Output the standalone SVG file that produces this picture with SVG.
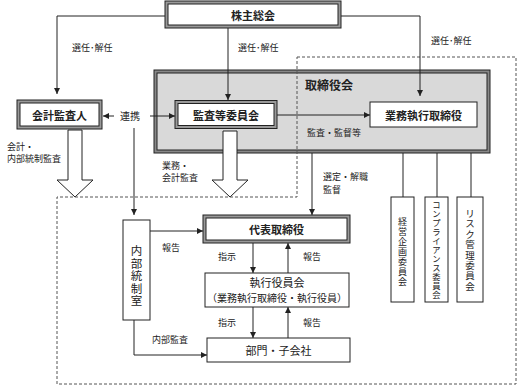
<svg xmlns="http://www.w3.org/2000/svg" width="517" height="385" viewBox="0 0 517 385">
<defs>
<marker id="ah" markerWidth="6" markerHeight="6" refX="6" refY="3" orient="auto" markerUnits="userSpaceOnUse">
<path d="M0,0 L6,3 L0,6 z" fill="#222"/>
</marker>
<style>
text{font-family:"Noto Sans CJK JP","Noto Sans CJK SC",sans-serif;fill:#222}
.lbl{font-size:9px}
.ttl{font-size:11px;font-weight:bold;text-anchor:middle;dominant-baseline:central}
.nm{font-size:11px;text-anchor:middle;dominant-baseline:central}
.vt{font-size:9px;text-anchor:middle}
.ln{stroke:#222;stroke-width:1;fill:none}
.arr{stroke:#222;stroke-width:1;fill:none;marker-end:url(#ah)}
.dbo{fill:#999;stroke:#222;stroke-width:1}
.dbi{fill:#fff;stroke:#222;stroke-width:1}
.box{fill:#fff;stroke:#222;stroke-width:1}
.hol{fill:#fff;stroke:#222;stroke-width:1}
.dash{fill:none;stroke:#555;stroke-width:1;stroke-dasharray:3 2}
</style>
</defs>
<rect width="517" height="385" fill="#fff"/>

<g id="board">
<rect x="154" y="70" width="336" height="83" fill="#888" stroke="#222"/>
<rect x="157" y="73" width="330" height="77" fill="#d9d9d9" stroke="#222"/>
<text x="305" y="84" style="font-size:12px;font-weight:bold;dominant-baseline:central">取締役会</text>
</g>

<g id="hollow-arrows">
<polygon class="hol" points="68,130 82,130 82,180 93,180 75,197 57,180 68,180"/>
<polygon class="hol" points="223,131 237,131 237,180 248,180 230,197 212,180 223,180"/>
</g>

<polygon class="dash" points="297,57 516,57 516,384 57,384 57,197 297,197"/>

<g id="connectors">
<path class="arr" d="M165,16 H57 V94"/>
<path class="arr" d="M228,28 V100"/>
<path class="arr" d="M341,16 H420 V96"/>
<path class="arr" d="M114,116 H103"/>
<path class="arr" d="M150,116 H175"/>
<path class="arr" d="M277,115 H370"/>
<path class="arr" d="M134,128 V215"/>
<path class="arr" d="M150,231 H203"/>
<path class="arr" d="M312,153 V215"/>
<path class="arr" d="M253,243 V273"/>
<path class="arr" d="M288,273 V243"/>
<path class="arr" d="M253,307 V338"/>
<path class="arr" d="M288,338 V307"/>
<path class="arr" d="M134,320 V355 H207"/>
<path class="ln" d="M403,153 V197 M437,153 V197 M471,153 V197"/>
</g>

<g id="shareholders">
<rect class="dbo" x="165" y="1" width="176" height="27"/>
<rect class="dbi" x="168" y="4" width="170" height="21"/>
<text class="ttl" x="253" y="15">株主総会</text>
</g>

<g id="auditor">
<rect class="dbo" x="17" y="100" width="85" height="29"/>
<rect class="dbi" x="20" y="103" width="79" height="23"/>
<text class="ttl" x="59.5" y="114.5">会計監査人</text>
</g>

<g id="audit-committee">
<rect class="dbo" x="175" y="100.5" width="102" height="28"/>
<rect class="dbi" x="178" y="103.5" width="96" height="22"/>
<text class="ttl" x="226" y="114.5">監査等委員会</text>
</g>

<g id="exec-director">
<rect class="box" x="370" y="102" width="107" height="25"/>
<text class="ttl" x="423.5" y="114.5">業務執行取締役</text>
</g>

<g id="representative">
<rect class="dbo" x="203" y="215" width="147" height="28"/>
<rect class="dbi" x="206" y="218" width="141" height="22"/>
<text class="ttl" x="276.5" y="229">代表取締役</text>
</g>

<g id="exec-officers">
<rect class="box" x="205" y="273" width="144" height="34"/>
<text class="nm" x="277" y="282">執行役員会</text>
<text class="nm" x="277" y="297" style="font-size:10px">（業務執行取締役・執行役員）</text>
</g>

<g id="divisions">
<rect class="box" x="207" y="338" width="143" height="24"/>
<text class="nm" x="278.5" y="350">部門・子会社</text>
</g>

<g id="internal-control">
<rect class="box" x="123" y="220" width="27" height="100"/>
<text class="vt" x="136.5" y="255" style="font-size:11.5px"><tspan x="136.5">内</tspan><tspan x="136.5" dy="12.5">部</tspan><tspan x="136.5" dy="12.5">統</tspan><tspan x="136.5" dy="12.5">制</tspan><tspan x="136.5" dy="12.5">室</tspan></text>
</g>

<g id="committee-mgmt">
<rect class="box" x="391" y="197" width="23" height="105"/>
<text class="vt" x="402.5" y="225"><tspan x="402.5">経</tspan><tspan x="402.5" dy="10">営</tspan><tspan x="402.5" dy="10">企</tspan><tspan x="402.5" dy="10">画</tspan><tspan x="402.5" dy="10">委</tspan><tspan x="402.5" dy="10">員</tspan><tspan x="402.5" dy="10">会</tspan></text>
</g>

<g id="committee-compliance">
<rect class="box" x="425" y="197" width="23" height="105"/>
<text class="vt" x="436.5" y="208" style="font-size:8.3px"><tspan x="436.5">コ</tspan><tspan x="436.5" dy="9">ン</tspan><tspan x="436.5" dy="9">プ</tspan><tspan x="436.5" dy="9">ラ</tspan><tspan x="436.5" dy="9">イ</tspan><tspan x="436.5" dy="9">ア</tspan><tspan x="436.5" dy="9">ン</tspan><tspan x="436.5" dy="9">ス</tspan><tspan x="436.5" dy="9">委</tspan><tspan x="436.5" dy="9">員</tspan><tspan x="436.5" dy="9">会</tspan></text>
</g>

<g id="committee-risk">
<rect class="box" x="457" y="197" width="26" height="105"/>
<text class="vt" x="470" y="217" style="font-size:9.5px"><tspan x="470">リ</tspan><tspan x="470" dy="10.4">ス</tspan><tspan x="470" dy="10.4">ク</tspan><tspan x="470" dy="10.4">管</tspan><tspan x="470" dy="10.4">理</tspan><tspan x="470" dy="10.4">委</tspan><tspan x="470" dy="10.4">員</tspan><tspan x="470" dy="10.4">会</tspan></text>
</g>

<g id="labels" class="lbl">
<text class="lbl" x="72" y="51">選任･解任</text>
<text class="lbl" x="238" y="51">選任･解任</text>
<text class="lbl" x="431" y="44">選任･解任</text>
<text x="120" y="120" style="font-size:10px">連携</text>
<text class="lbl" x="7" y="150">会計・</text>
<text class="lbl" x="7" y="162">内部統制監査</text>
<text class="lbl" x="162" y="169">業務・</text>
<text class="lbl" x="162" y="181">会計監査</text>
<text class="lbl" x="307" y="136">監査・監督等</text>
<text class="lbl" x="323" y="180">選定・解職</text>
<text class="lbl" x="323" y="193">監督</text>
<text class="lbl" x="162" y="251">報告</text>
<text class="lbl" x="218" y="260">指示</text>
<text class="lbl" x="303" y="260">報告</text>
<text class="lbl" x="218" y="326">指示</text>
<text class="lbl" x="303" y="326">報告</text>
<text class="lbl" x="152" y="343">内部監査</text>
</g>
</svg>
